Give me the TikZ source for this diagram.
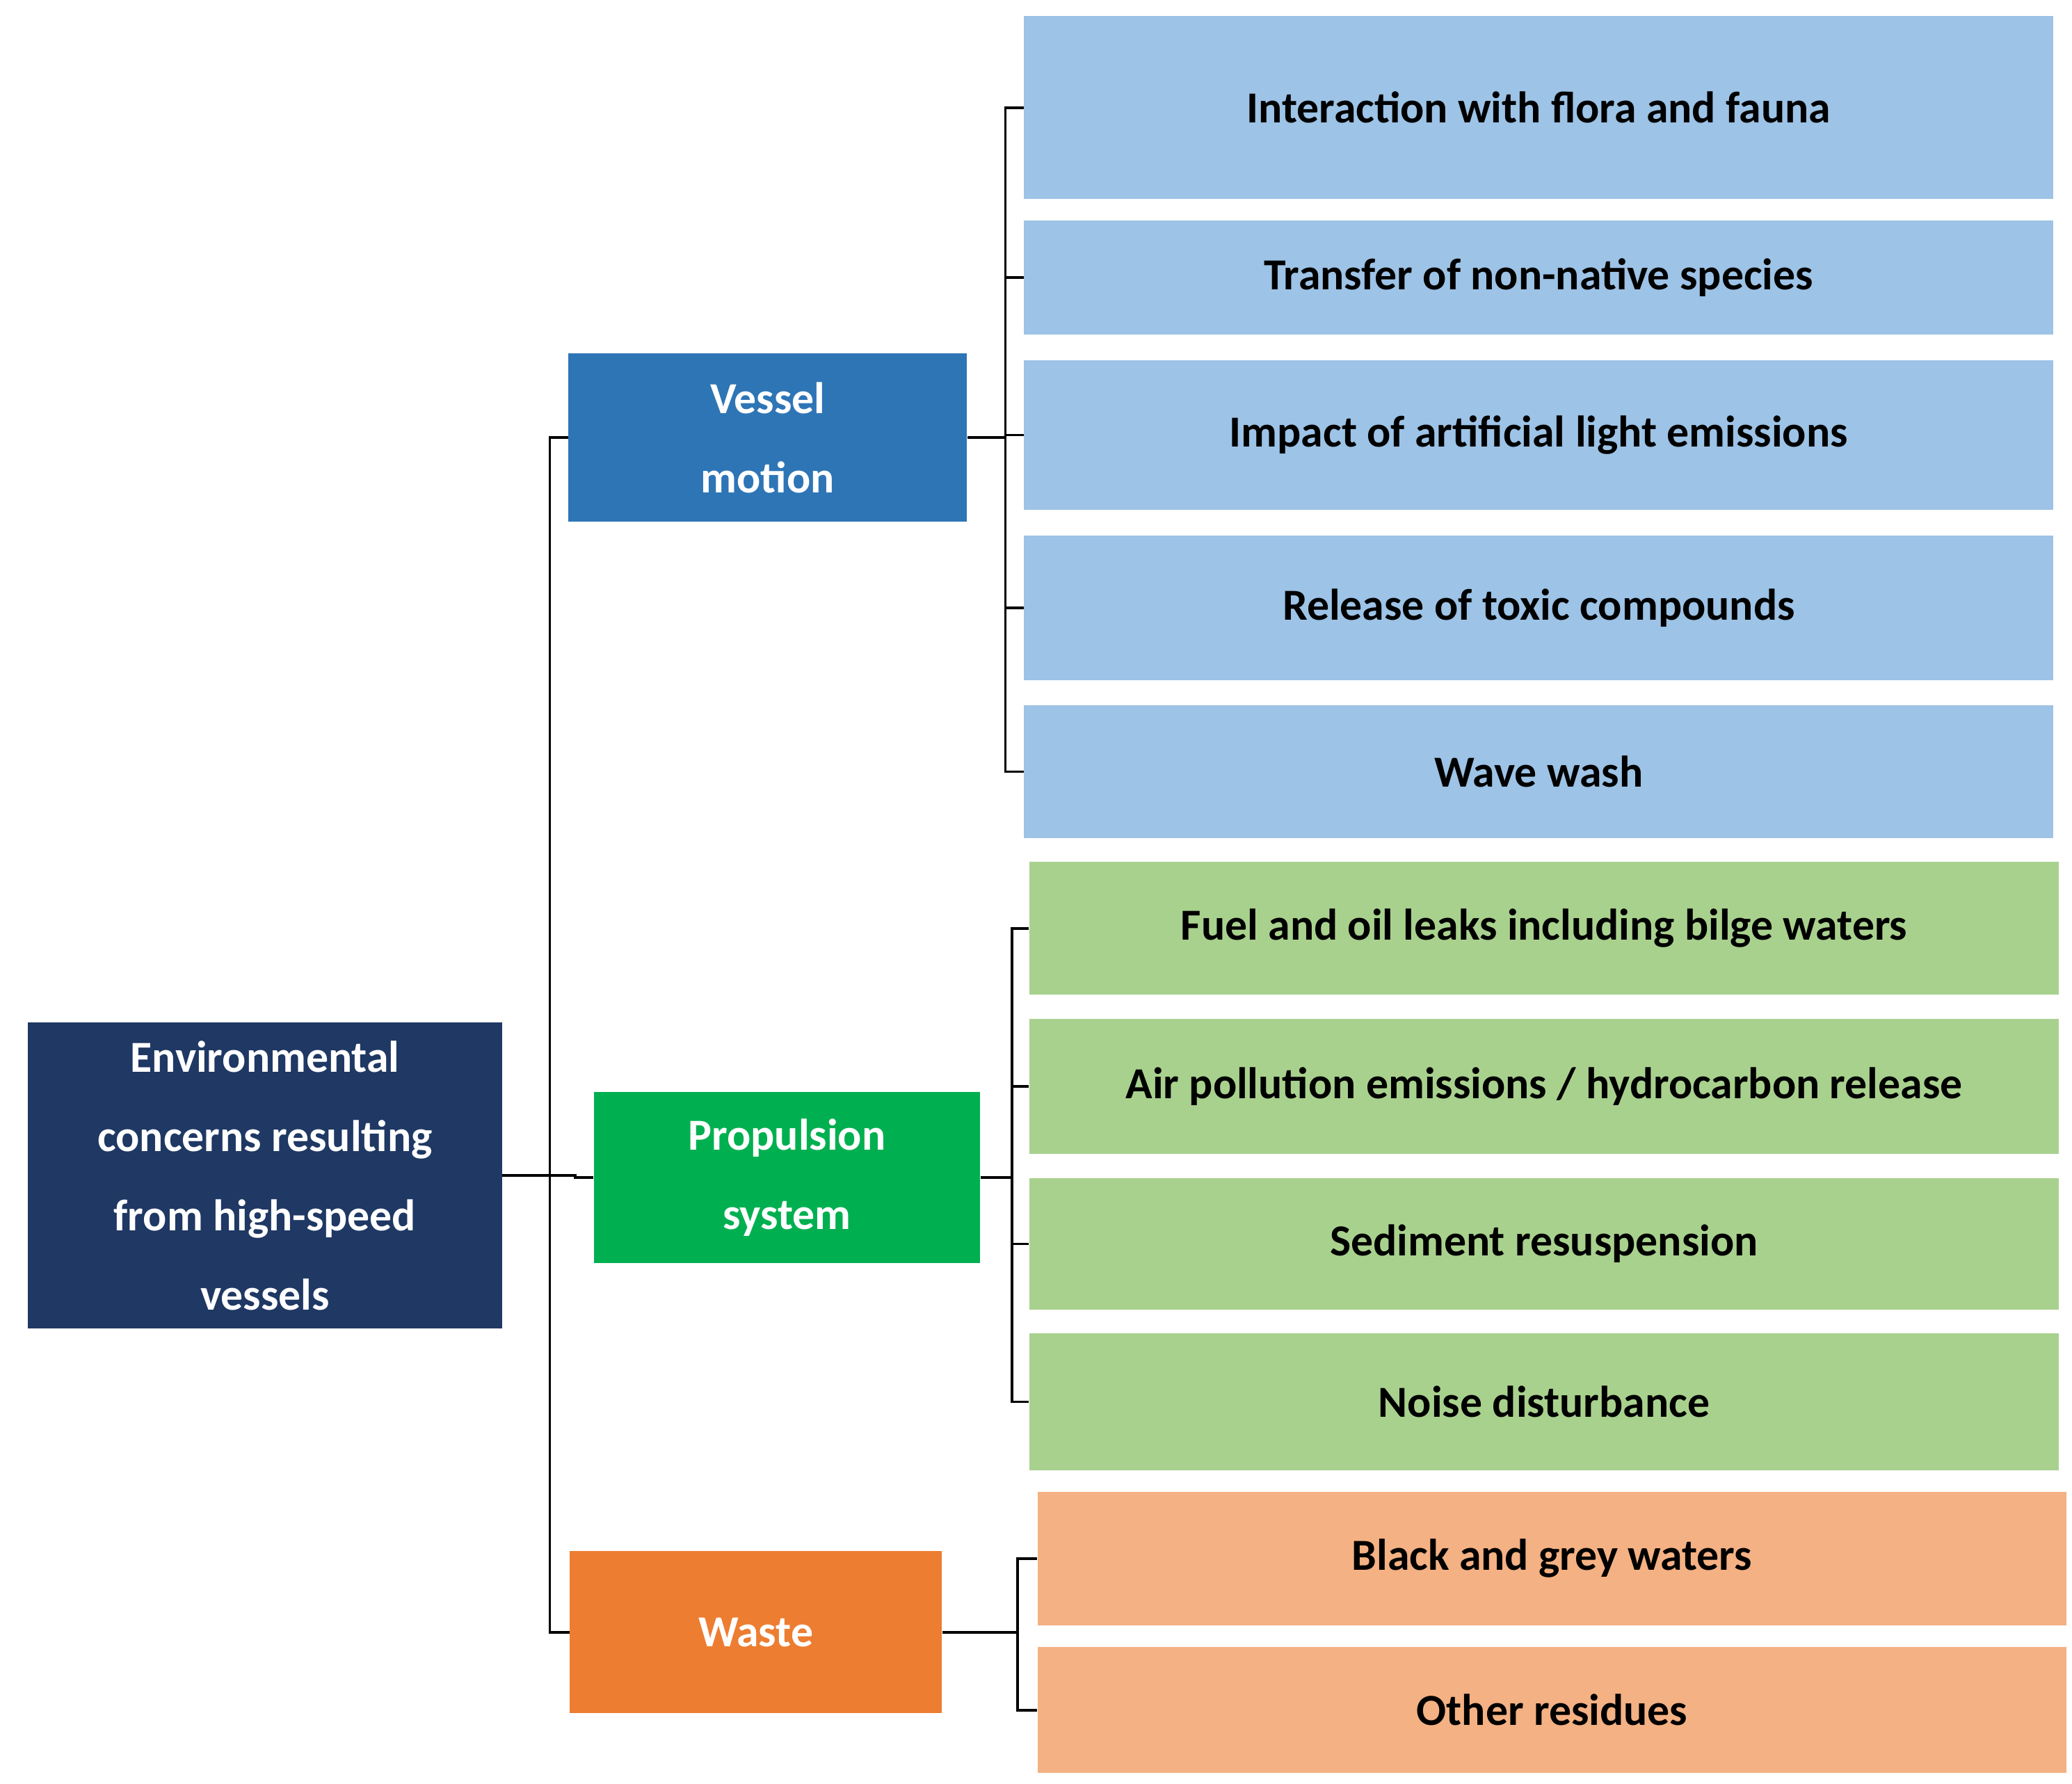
\documentclass[tikz,border=0pt]{standalone}
\usepackage{fontspec}
\setmainfont{Carlito}
\definecolor{navy}{HTML}{1F3864}
\definecolor{vblue}{HTML}{2E75B6}
\definecolor{pgreen}{HTML}{00B050}
\definecolor{worange}{HTML}{ED7D31}
\definecolor{lblue}{HTML}{9DC3E6}
\definecolor{lgreen}{HTML}{A9D18E}
\definecolor{lorange}{HTML}{F4B183}
\begin{document}
\begin{tikzpicture}[x=0.02cm,y=-0.02cm,
  box/.style={draw=none,inner sep=0pt,align=center,font=\fontsize{19}{34}\selectfont\bfseries},
  cat/.style={box,text=white},
  leaf/.style={box,text=black},
  ln/.style={line width=1.1pt,draw=black}]
\useasboundingbox (0,0) rectangle (1560,1343);
\newcommand{\bx}[6]{\node[#1,fill=#6,minimum width={(#4-#2)*0.02cm},minimum height={(#5-#3)*0.02cm}] (#1X) at ({(#2+#4)/2},{(#3+#5)/2}) {};}
% nodes
\node[cat,fill=navy,minimum width=7.14cm,minimum height=4.6cm] (root) at (199.5,885) {Environmental\\concerns resulting\\from high-speed\\vessels};
\node[cat,fill=vblue,minimum width=6cm,minimum height=2.54cm] (vm) at (578,329.5) {Vessel\\motion};
\node[cat,fill=pgreen,minimum width=5.82cm,minimum height=2.58cm] (ps) at (592.5,886.5) {Propulsion\\system};
\node[cat,fill=worange,minimum width=5.6cm,minimum height=2.44cm] (ws) at (569,1229) {Waste};
\node[leaf,fill=lblue,minimum width=15.5cm,minimum height=2.76cm] (b1) at (1158.5,81) {Interaction with flora and fauna};
\node[leaf,fill=lblue,minimum width=15.5cm,minimum height=1.72cm] (b2) at (1158.5,209) {Transfer of non-native species};
\node[leaf,fill=lblue,minimum width=15.5cm,minimum height=2.26cm] (b3) at (1158.5,327.5) {Impact of artificial light emissions};
\node[leaf,fill=lblue,minimum width=15.5cm,minimum height=2.18cm] (b4) at (1158.5,457.5) {Release of toxic compounds};
\node[leaf,fill=lblue,minimum width=15.5cm,minimum height=2cm] (b5) at (1158.5,581) {Wave wash};
\node[leaf,fill=lgreen,minimum width=15.5cm,minimum height=2cm] (g1) at (1162.5,699) {Fuel and oil leaks including bilge waters};
\node[leaf,fill=lgreen,minimum width=15.5cm,minimum height=2.04cm] (g2) at (1162.5,818) {Air pollution emissions / hydrocarbon release};
\node[leaf,fill=lgreen,minimum width=15.5cm,minimum height=1.98cm] (g3) at (1162.5,936.5) {Sediment resuspension};
\node[leaf,fill=lgreen,minimum width=15.5cm,minimum height=2.06cm] (g4) at (1162.5,1055.5) {Noise disturbance};
\node[leaf,fill=lorange,minimum width=15.5cm,minimum height=2.02cm] (o1) at (1168.5,1173.5) {Black and grey waters};
\node[leaf,fill=lorange,minimum width=15.5cm,minimum height=1.9cm] (o2) at (1168.5,1287.5) {Other residues};
% connectors
\coordinate (t) at (414,885);
\draw[ln] (root.east) -- (t);
\draw[ln] (t) |- (vm.west);
\draw[ln] (t) |- (ws.west);
\draw[ln] (t) -- (433,885) -- (433,886.5) -- (ps.west);
\coordinate (vb) at (757,329.5);
\draw[ln] (vm.east) -- (vb);
\foreach \n in {b1,b2,b3,b4,b5} \draw[ln] (vb) |- (\n.west);
\coordinate (pb) at (762,886.5);
\draw[ln] (ps.east) -- (pb);
\foreach \n in {g1,g2,g3,g4} \draw[ln] (pb) |- (\n.west);
\coordinate (wb) at (766,1229);
\draw[ln] (ws.east) -- (wb);
\foreach \n in {o1,o2} \draw[ln] (wb) |- (\n.west);
\end{tikzpicture}
\end{document}
